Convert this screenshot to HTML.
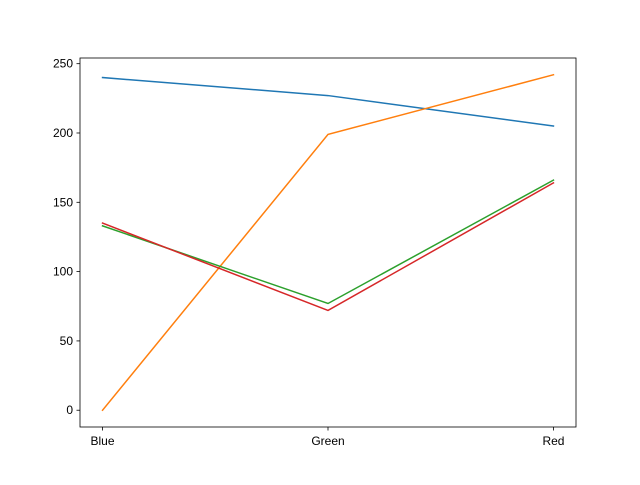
<!DOCTYPE html>
<html><head><meta charset="utf-8"><style>
html,body{margin:0;padding:0;background:#fff;}
svg text{font-family:"Liberation Sans","DejaVu Sans",sans-serif;font-size:12px;fill:#000;}
</style></head><body>
<svg id="chart" width="640" height="480"></svg>
<script>
const categories = ["Blue","Green","Red"];
const seriesBlue = [240,227,205];
const seriesOrange = [0,199,242];
const seriesGreen = [133,77,166];
const seriesRed = [135,72,164];
const yTicks = [0,50,100,150,200,250];
const colors = ["#1f77b4","#ff7f0e","#2ca02c","#d62728"];
const seriesNames = ["series-1","series-2","series-3","series-4"];

const L=80,R=576,T=58,B=427;
const all=[].concat(seriesBlue,seriesOrange,seriesGreen,seriesRed);
const ymin=Math.min(...all), ymax=Math.max(...all), pad=(ymax-ymin)*0.05;
const y0=ymin-pad, y1=ymax+pad;
const xs=i=>L+(i+0.1)/(categories.length-1+0.2)*(R-L);
const ys=v=>B-(v-y0)/(y1-y0)*(B-T);
const svg=document.getElementById('chart');
const NS="http://www.w3.org/2000/svg";
function mk(tag,attrs){const e=document.createElementNS(NS,tag);for(const k in attrs)e.setAttribute(k,attrs[k]);svg.appendChild(e);return e;}

[seriesBlue,seriesOrange,seriesGreen,seriesRed].forEach((s,si)=>{
  const p=mk('polyline',{points:s.map((v,i)=>xs(i)+','+ys(v)).join(' '),fill:'none',stroke:colors[si],'stroke-width':1.5,'stroke-linecap':'square'});
  
  
});

const frame=mk('rect',{x:L,y:T,width:R-L,height:B-T,fill:'none',stroke:'#000','stroke-width':0.8});



yTicks.forEach(v=>{
  const y=ys(v);
  const t=mk('line',{x1:L-3.5,x2:L,y1:y,y2:y,stroke:'#000','stroke-width':0.8});
  
  
  const l=mk('text',{x:L-7,y:y+4,'text-anchor':'end'});
  l.textContent=v;
  
  
});
categories.forEach((c,i)=>{
  const x=xs(i);
  const t=mk('line',{x1:x,x2:x,y1:B,y2:B+3.5,stroke:'#000','stroke-width':0.8});
  
  
  const l=mk('text',{x:x,y:B+18,'text-anchor':'middle'});
  l.textContent=c;
  
  
});
</script>
</body></html>
